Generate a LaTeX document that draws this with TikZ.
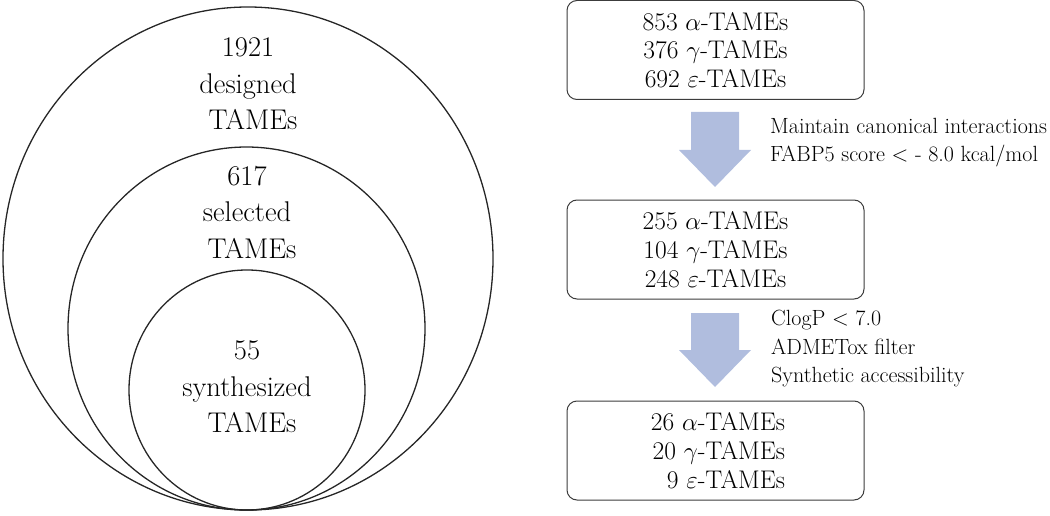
\documentclass[tikz,border=0pt]{standalone}
\usepackage{fontspec}
\newcommand{\galpha}{$\alpha$}
\newcommand{\ggamma}{$\gamma$}
\newcommand{\geps}{$\varepsilon$}
\definecolor{arrowblue}{RGB}{176,189,222}
\definecolor{boxline}{RGB}{60,60,60}
\tikzset{
  ring/.style={draw=black!85, line width=1.3pt},
  ringtext/.style={align=center, font=\fontsize{28.5}{36.5}\selectfont, inner sep=0pt},
  countbox/.style={draw=boxline, line width=1pt, rounded corners=10pt, minimum width=297pt, minimum height=99pt, inner sep=0pt},
  boxtext/.style={font=\fontsize{25.5}{28.8}\selectfont},
  sidetext/.style={align=left, anchor=west, inner sep=0pt, font=\fontsize{22}{28.5}\selectfont},
  blockarrow/.style={fill=arrowblue, draw=none}
}
\begin{document}
\begin{tikzpicture}[x=1pt,y=-1pt]
\useasboundingbox (0,0) rectangle (1050,516);
% nested circles
\draw[ring] (248,258.5) ellipse [x radius=245, y radius=251.5];
\draw[ring] (246.5,328.5) ellipse [x radius=178.5, y radius=181.5];
\draw[ring] (247,390) ellipse [x radius=118, y radius=120];
\node[ringtext] (designed) at (248,84) {1921\\designed\\\hspace*{0.35em}TAMEs};
\node[ringtext] (selected) at (247,212) {617\\selected\\\hspace*{0.35em}TAMEs};
\node[ringtext] (synth) at (247,387) {55\\synthesized\\\hspace*{0.35em}TAMEs};
% boxes
\node[countbox] (b1) at (715.5,50) {};
\node[countbox] (b2) at (715.5,249.5) {};
\node[countbox] (b3) at (715.5,450.5) {};
\node[boxtext, align=center] (t1) at (b1.center) {853 \galpha-TAMEs\\376 \ggamma-TAMEs\\692 \geps-TAMEs};
\node[boxtext, align=center] (t2) at (b2.center) {255 \galpha-TAMEs\\104 \ggamma-TAMEs\\248 \geps-TAMEs};
\node[boxtext, align=right] (t3) at (718,450.5) {26 \galpha-TAMEs\\20 \ggamma-TAMEs\\9 \geps-TAMEs};
% block arrows
\fill[blockarrow] (691,112) -- (739,112) -- (739,150) -- (751,150) -- (715,187) -- (679,150) -- (691,150) -- cycle;
\fill[blockarrow] (691,313) -- (739,313) -- (739,350) -- (751,350) -- (715,387) -- (679,350) -- (691,350) -- cycle;
% side labels
\node[sidetext] (s1) at (770,142.5) {Maintain canonical interactions\\FABP5 score < - 8.0 kcal/mol};
\node[sidetext] (s2) at (771,349) {ClogP < 7.0\\ADMETox filter\\Synthetic accessibility};
\end{tikzpicture}
\end{document}
